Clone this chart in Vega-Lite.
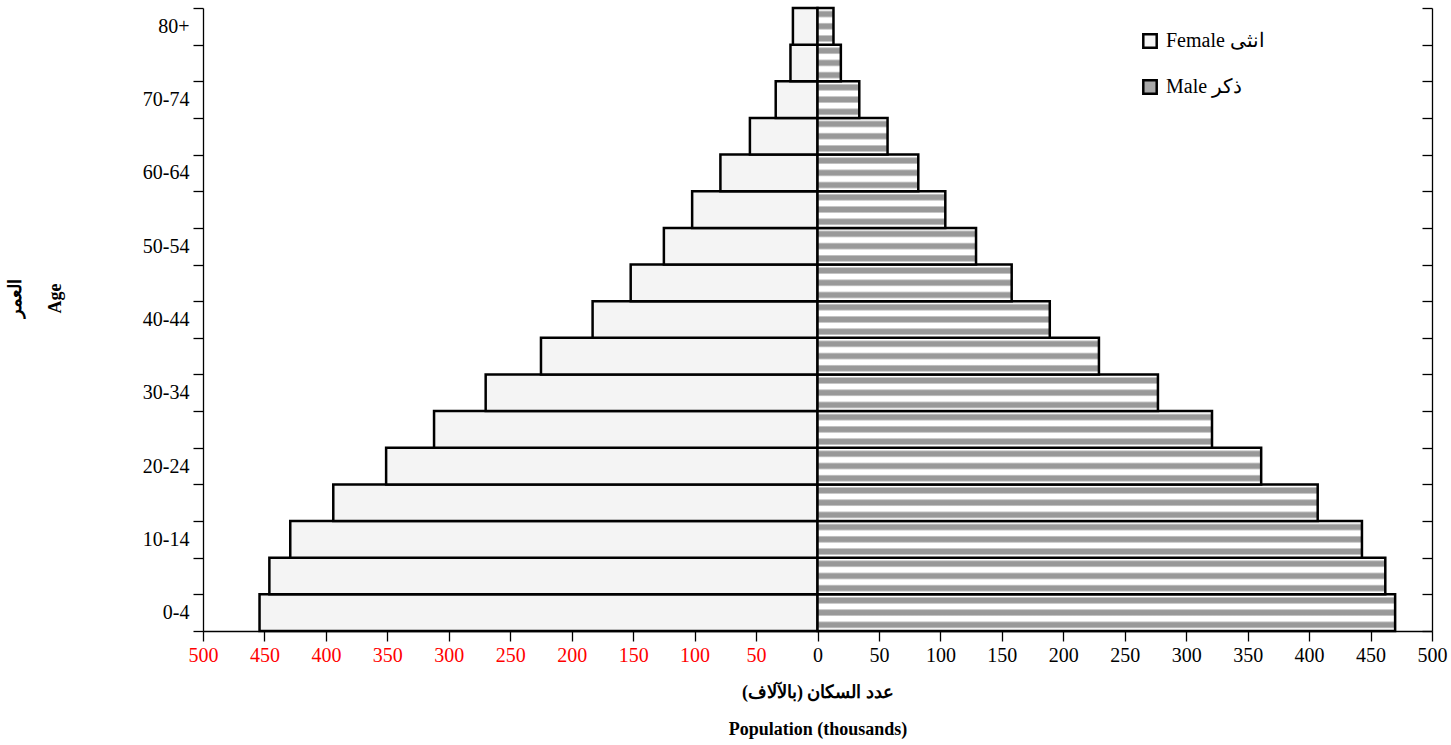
{
  "$schema": "https://vega.github.io/schema/vega-lite/v6.json",
  "width": 1229,
  "height": 623,
  "autosize": {"type": "none"},
  "padding": {"left": 203, "top": 8, "right": 19, "bottom": 114},
  "background": "white",
  "config": {
    "font": "Liberation Serif",
    "view": {"stroke": null},
    "axis": {"domainColor": "black", "tickColor": "black", "labelColor": "black", "titleColor": "black", "grid": false, "domainWidth": 1.3, "tickWidth": 1.3}
  },
  "data": {
    "values": [
      {"age": "0-4", "sex": "Female انثى", "population": 454},
      {"age": "5-9", "sex": "Female انثى", "population": 446},
      {"age": "10-14", "sex": "Female انثى", "population": 429},
      {"age": "15-19", "sex": "Female انثى", "population": 394},
      {"age": "20-24", "sex": "Female انثى", "population": 351},
      {"age": "25-29", "sex": "Female انثى", "population": 312},
      {"age": "30-34", "sex": "Female انثى", "population": 270},
      {"age": "35-39", "sex": "Female انثى", "population": 225},
      {"age": "40-44", "sex": "Female انثى", "population": 183},
      {"age": "45-49", "sex": "Female انثى", "population": 152},
      {"age": "50-54", "sex": "Female انثى", "population": 125},
      {"age": "55-59", "sex": "Female انثى", "population": 102},
      {"age": "60-64", "sex": "Female انثى", "population": 79},
      {"age": "65-69", "sex": "Female انثى", "population": 55},
      {"age": "70-74", "sex": "Female انثى", "population": 34},
      {"age": "75-79", "sex": "Female انثى", "population": 22},
      {"age": "80+", "sex": "Female انثى", "population": 20},
      {"age": "0-4", "sex": "Male ذكر", "population": 470},
      {"age": "5-9", "sex": "Male ذكر", "population": 462},
      {"age": "10-14", "sex": "Male ذكر", "population": 443},
      {"age": "15-19", "sex": "Male ذكر", "population": 407},
      {"age": "20-24", "sex": "Male ذكر", "population": 361},
      {"age": "25-29", "sex": "Male ذكر", "population": 321},
      {"age": "30-34", "sex": "Male ذكر", "population": 277},
      {"age": "35-39", "sex": "Male ذكر", "population": 229},
      {"age": "40-44", "sex": "Male ذكر", "population": 189},
      {"age": "45-49", "sex": "Male ذكر", "population": 158},
      {"age": "50-54", "sex": "Male ذكر", "population": 129},
      {"age": "55-59", "sex": "Male ذكر", "population": 104},
      {"age": "60-64", "sex": "Male ذكر", "population": 82},
      {"age": "65-69", "sex": "Male ذكر", "population": 57},
      {"age": "70-74", "sex": "Male ذكر", "population": 34},
      {"age": "75-79", "sex": "Male ذكر", "population": 19},
      {"age": "80+", "sex": "Male ذكر", "population": 13}
    ]
  },
  "transform": [
    {"calculate": "indexof(datum.sex, 'Female') === 0 ? -datum.population : datum.population", "as": "signed"}
  ],
  "layer": [
    {
      "mark": {"type": "bar", "stroke": "black", "strokeWidth": 2.5},
      "encoding": {
        "y": {
          "field": "age", "type": "ordinal",
          "sort": ["80+", "75-79", "70-74", "65-69", "60-64", "55-59", "50-54", "45-49", "40-44", "35-39", "30-34", "25-29", "20-24", "15-19", "10-14", "5-9", "0-4"],
          "scale": {"paddingInner": 0, "paddingOuter": 0},
          "axis": {
            "orient": "left", "tickBand": "extent", "tickSize": 10, "labelFontSize": 20, "labelPadding": 4,
            "labelExpr": "indexof(['0-4','10-14','20-24','30-34','40-44','50-54','60-64','70-74','80+'], datum.value) >= 0 ? datum.value : ''",
            "title": ["العمر", "Age"], "titleFontSize": 18, "titleFontWeight": "bold",
            "titleX": -188, "titleY": 290, "titleAlign": "center", "titleBaseline": "middle", "titleLineHeight": 40, "titleAngle": -90
          }
        },
        "x": {
          "field": "signed", "type": "quantitative", "stack": null,
          "scale": {"domain": [-500, 500], "nice": false},
          "axis": {
            "values": [-500, -450, -400, -350, -300, -250, -200, -150, -100, -50, 0, 50, 100, 150, 200, 250, 300, 350, 400, 450, 500],
            "tickSize": 10, "labelFontSize": 20, "labelPadding": 4, "labelFlush": false, "labelOverlap": false,
            "labelExpr": "abs(datum.value)",
            "labelColor": {"condition": {"test": "datum.value < 0", "value": "#ff0000"}, "value": "black"},
            "title": ["عدد السكان (بالآلاف)\u200f", "Population (thousands)"], "titleFontSize": 18, "titleFontWeight": "bold",
            "titleY": 61, "titleBaseline": "middle", "titleLineHeight": 37
          }
        },
        "fill": {
          "field": "sex", "type": "nominal",
          "condition": {"test": "indexof(datum.sex, 'Male') === 0", "value": {"gradient": "linear", "x1": 0, "y1": 0, "x2": 0, "y2": 1, "stops": [
                {"offset": 0, "color": "#ffffff"}, {"offset": 0.06, "color": "#ffffff"}, {"offset": 0.08, "color": "#cccccc"}, {"offset": 0.11, "color": "#999999"}, {"offset": 0.22, "color": "#999999"}, {"offset": 0.25, "color": "#cccccc"}, {"offset": 0.27, "color": "#ffffff"},
                {"offset": 0.3933, "color": "#ffffff"}, {"offset": 0.4133, "color": "#cccccc"}, {"offset": 0.4433, "color": "#999999"}, {"offset": 0.5533, "color": "#999999"}, {"offset": 0.5833, "color": "#cccccc"}, {"offset": 0.6033, "color": "#ffffff"},
                {"offset": 0.7267, "color": "#ffffff"}, {"offset": 0.7467, "color": "#cccccc"}, {"offset": 0.7767, "color": "#999999"}, {"offset": 0.8867, "color": "#999999"}, {"offset": 0.9167, "color": "#cccccc"}, {"offset": 0.9367, "color": "#ffffff"}, {"offset": 1, "color": "#ffffff"}
              ]}},
          "scale": {"domain": ["Female انثى", "Male ذكر"], "range": ["#f4f4f4", "#a8a8a8"]},
          "legend": {
            "orient": "none", "legendX": 937, "legendY": 23, "title": null,
            "symbolType": "square", "symbolSize": 180, "symbolStrokeColor": "black", "symbolStrokeWidth": 2.5, "symbolOpacity": 1,
            "labelFontSize": 20, "labelOffset": 6, "rowPadding": 22,
            "encode": {"symbols": {"update": {
              "fill": {"signal": "indexof(datum.value, 'Male') === 0 ? {gradient: 'linear', x1: 0, y1: 0, x2: 0, y2: 1, stops: [{offset: 0, color: '#ffffff'}, {offset: 0.15, color: '#ffffff'}, {offset: 0.2, color: '#999999'}, {offset: 0.45, color: '#999999'}, {offset: 0.5, color: '#ffffff'}, {offset: 0.6, color: '#ffffff'}, {offset: 0.65, color: '#999999'}, {offset: 0.9, color: '#999999'}, {offset: 0.95, color: '#ffffff'}, {offset: 1, color: '#ffffff'}]} : '#f4f4f4'"},
              "stroke": {"value": "black"},
              "strokeWidth": {"value": 2.5}
            }}}
          }
        }
      }
    },
    {
      "mark": {"type": "bar", "opacity": 0},
      "encoding": {
        "y": {
          "field": "age", "type": "ordinal",
          "sort": ["80+", "75-79", "70-74", "65-69", "60-64", "55-59", "50-54", "45-49", "40-44", "35-39", "30-34", "25-29", "20-24", "15-19", "10-14", "5-9", "0-4"],
          "axis": {"orient": "right", "tickBand": "extent", "tickSize": -10, "labels": false, "title": null}
        }
      }
    }
  ],
  "resolve": {"axis": {"y": "independent"}}
}
